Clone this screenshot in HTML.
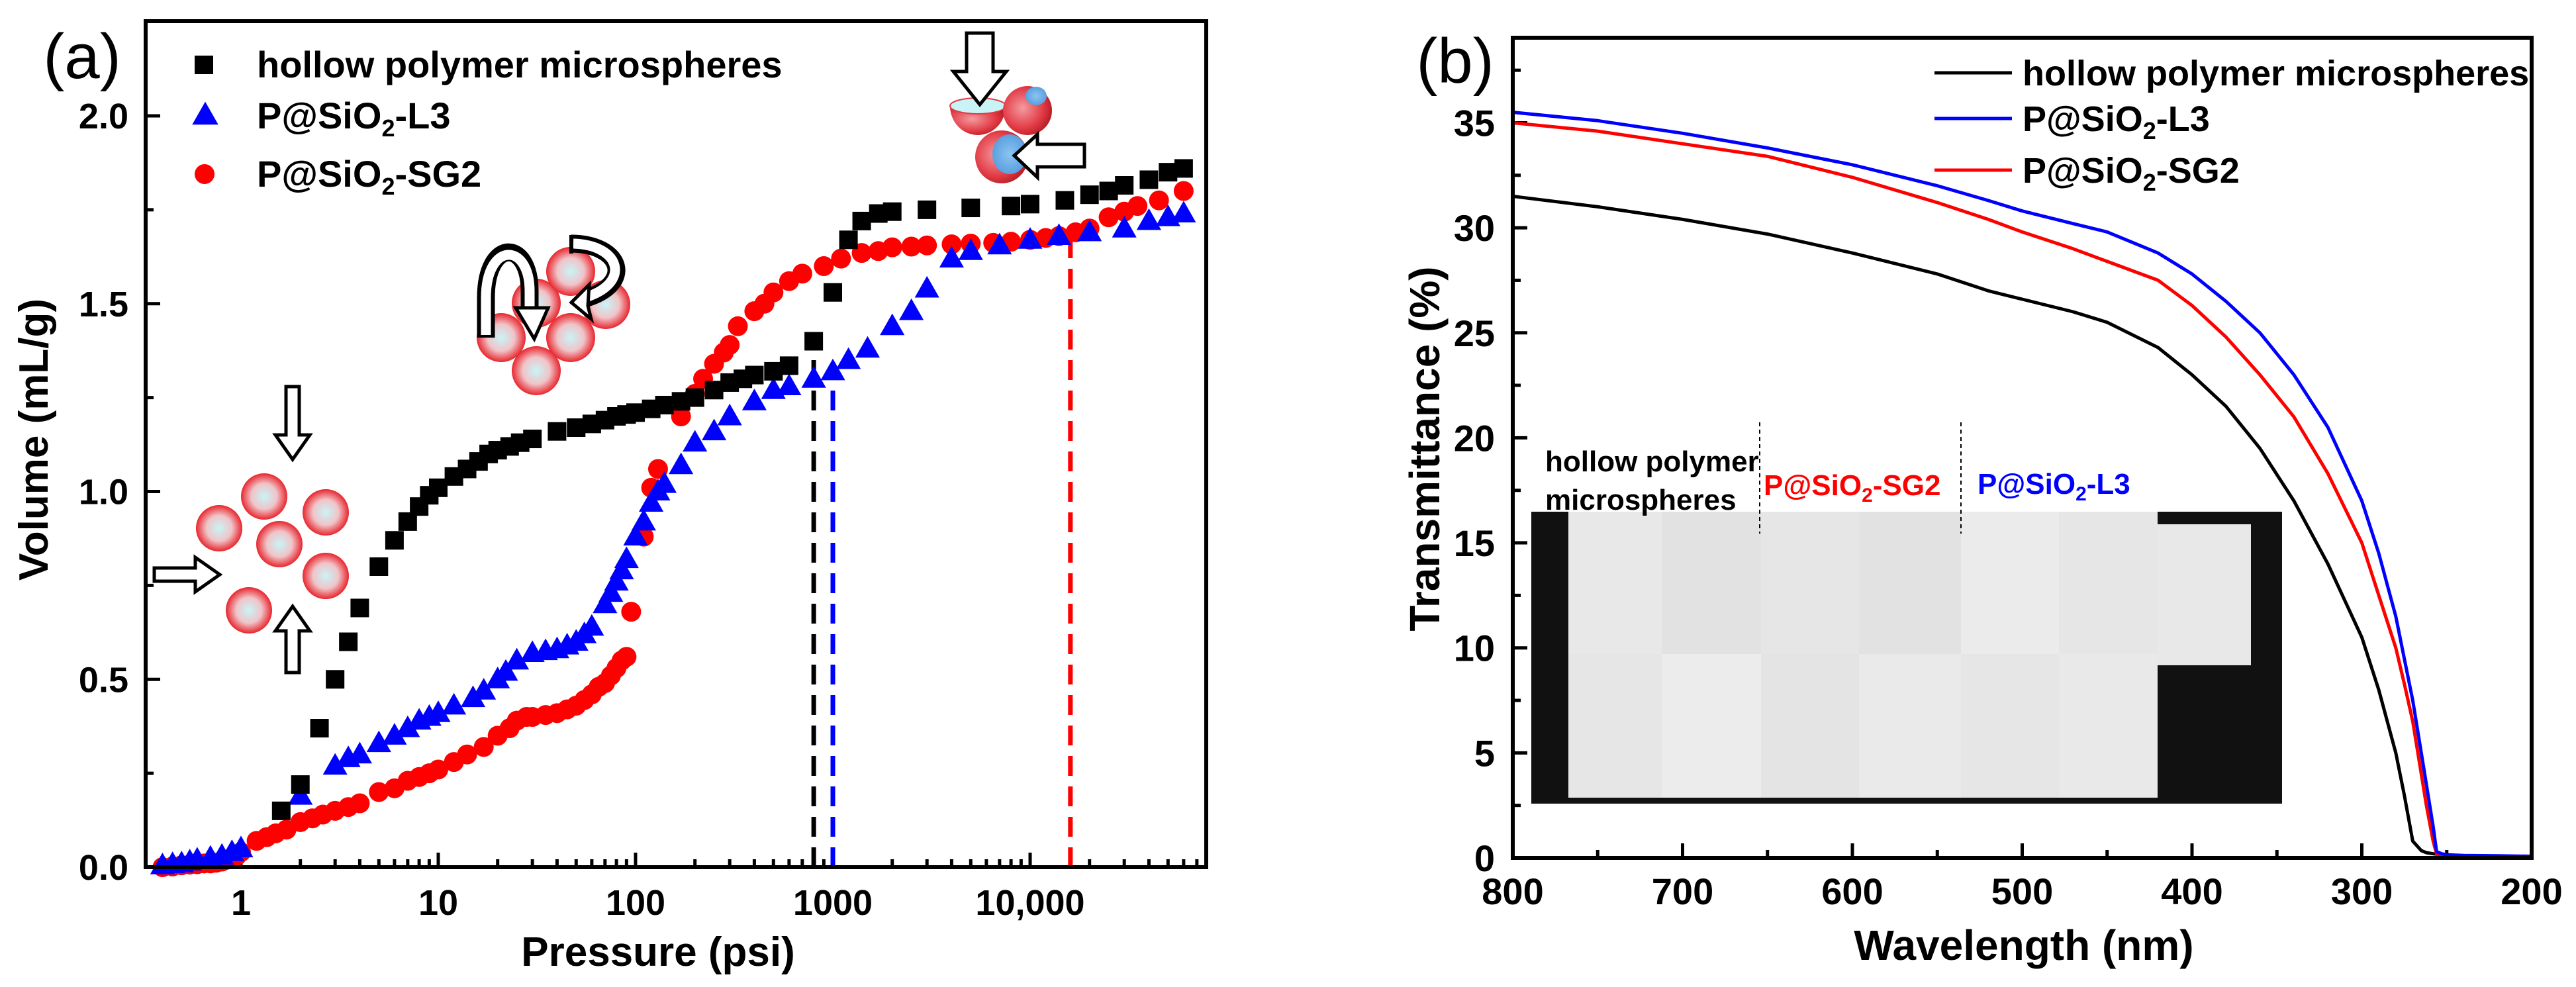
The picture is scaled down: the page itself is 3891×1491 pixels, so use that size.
<!DOCTYPE html>
<html><head><meta charset="utf-8"><style>
html,body{margin:0;padding:0;background:#fff}
svg{display:block}
text{font-family:"Liberation Sans",Arial,sans-serif}
</style></head><body>
<svg id="fig" width="3891" height="1491" viewBox="0 0 3891 1491" xmlns="http://www.w3.org/2000/svg">
<defs>
<radialGradient id="sph" cx="50%" cy="50%" r="50%"><stop offset="0" stop-color="#c8f4f8"/><stop offset="0.55" stop-color="#f0c4c8"/><stop offset="1" stop-color="#e8262e"/></radialGradient>
<radialGradient id="sph3" cx="40%" cy="45%" r="60%"><stop offset="0" stop-color="#f49aa0"/><stop offset="0.7" stop-color="#e23a44"/><stop offset="1" stop-color="#b81e28"/></radialGradient>
<radialGradient id="blu" cx="50%" cy="50%" r="50%"><stop offset="0" stop-color="#8cc4f0"/><stop offset="1" stop-color="#5aa0e0"/></radialGradient>
</defs>
<g id="pa"></g>
<g id="pb"></g>
</svg>
<script>
// ---------- Panel (a) data ----------
const blackP=[1.6,2,2.5,3,3.5,4,5,6,7,8,9,10,12,14,16,18,20,23,26,30,40,50,60,70,80,90,100,120,140,170,200,250,300,350,400,500,600,800,1000,1200,1400,1700,2000,3000,5000,8000,10000,15000,20000,25000,30000,40000,50000,60000];
const blackV=[0.15,0.22,0.37,0.5,0.6,0.69,0.8,0.87,0.92,0.96,0.99,1.01,1.04,1.06,1.08,1.1,1.11,1.12,1.13,1.14,1.16,1.17,1.18,1.19,1.2,1.205,1.21,1.22,1.23,1.24,1.25,1.27,1.29,1.3,1.31,1.32,1.335,1.4,1.53,1.67,1.72,1.74,1.745,1.75,1.755,1.76,1.765,1.775,1.79,1.8,1.815,1.83,1.85,1.86];
const blueP=[0.4,0.45,0.5,0.55,0.6,0.7,0.8,0.9,1.0,2,3,3.5,4,5,6,7,8,9,10,12,15,17,20,22,25,30,35,40,45,50,55,60,70,75,80,85,90,100,110,120,130,140,170,200,250,300,400,500,600,800,1000,1200,1500,2000,2500,3000,4000,5000,7000,10000,14000,20000,30000,40000,50000,60000];
const blueV=[0.005,0.008,0.01,0.015,0.02,0.025,0.03,0.04,0.05,0.19,0.27,0.29,0.3,0.33,0.35,0.37,0.39,0.4,0.41,0.43,0.45,0.47,0.5,0.52,0.55,0.57,0.575,0.58,0.59,0.6,0.62,0.64,0.7,0.73,0.76,0.79,0.82,0.88,0.92,0.97,1.0,1.02,1.07,1.13,1.16,1.2,1.24,1.27,1.28,1.3,1.32,1.35,1.38,1.44,1.48,1.54,1.62,1.64,1.655,1.67,1.68,1.69,1.7,1.72,1.73,1.74];
const redP=[0.4,0.45,0.5,0.55,0.6,0.65,0.7,0.75,0.8,0.85,0.9,0.95,1.0,1.2,1.35,1.5,1.7,2,2.3,2.6,3,3.5,4,5,6,7,8,9,10,12,14,17,20,23,25,28,30,35,40,45,50,55,60,65,70,75,80,85,90,95,110,120,130,170,200,220,250,280,300,330,400,450,500,600,700,900,1100,1400,1700,2000,2500,3000,4000,5000,6500,8000,10000,12000,14000,17000,20000,25000,30000,35000,45000,60000];
const redV=[0.0,0.002,0.005,0.007,0.008,0.01,0.01,0.012,0.015,0.02,0.025,0.03,0.04,0.07,0.08,0.09,0.1,0.12,0.13,0.14,0.15,0.16,0.17,0.2,0.21,0.23,0.24,0.25,0.26,0.28,0.3,0.32,0.35,0.37,0.39,0.4,0.4,0.405,0.41,0.42,0.43,0.445,0.46,0.48,0.49,0.51,0.53,0.55,0.56,0.68,0.88,1.01,1.06,1.2,1.26,1.3,1.34,1.37,1.39,1.44,1.48,1.5,1.53,1.56,1.58,1.6,1.62,1.635,1.64,1.65,1.652,1.655,1.658,1.66,1.662,1.665,1.67,1.675,1.68,1.69,1.7,1.73,1.745,1.76,1.775,1.8];
const dashP=[800,1000,16000];
const dashTop=[1.4,1.33,1.68];
const aXTicks=[1,10,100,1000,10000];
const aXLabels=["1","10","100","1000","10,000"];
const aYTicks=[0,0.5,1.0,1.5,2.0];
const aYLabels=["0.0","0.5","1.0","1.5","2.0"];

// ---------- Panel (b) data ----------
const wl=[800,750,700,650,600,550,520,500,470,450,420,400,380,360,340,320,300,290,280,275,270,265,262,258,256,253,250,240,220,200];
const tBlack=[31.5,31.0,30.4,29.7,28.8,27.8,27.0,26.6,26.0,25.5,24.3,23.0,21.5,19.5,17.0,14.0,10.5,8.0,5.0,3.0,0.8,0.35,0.25,0.2,0.18,0.15,0.1,0.08,0.05,0.05];
const tBlue=[35.5,35.1,34.5,33.8,33.0,32.0,31.3,30.8,30.2,29.8,28.8,27.8,26.5,25.0,23.0,20.5,17.0,14.5,11.5,9.5,7.5,5.0,3.5,1.5,0.3,0.2,0.15,0.12,0.1,0.08];
const tRed=[35.0,34.6,34.0,33.4,32.4,31.2,30.4,29.8,29.0,28.4,27.5,26.3,24.8,23.0,21.0,18.3,15.0,12.5,10.0,8.3,6.5,4.0,2.5,0.8,0.2,0.08,0.05,0.05,0.05,0.05];
const bXTicks=[800,700,600,500,400,300,200];
const bYTicks=[0,5,10,15,20,25,30,35];

const NS="http://www.w3.org/2000/svg";
function mk(parent,tag,attrs,txt){const e=document.createElementNS(NS,tag);for(const k in attrs)e.setAttribute(k,attrs[k]);if(txt!==undefined)e.textContent=txt;parent.appendChild(e);return e;}

// ===== Panel A =====
const pa=document.getElementById('pa');
const AL=220,AR=1822,AT=32,AB=1310;
const lx0=Math.log10(1),px1=364,pxDec=298;
function ax(p){return px1+(Math.log10(p)-lx0)*pxDec;}
function ay(v){return AB-v*567.5;}

let t=mk(pa,'text',{x:124,y:118,'font-size':96,'text-anchor':'middle'},'(a)');



// ticks
const tg=mk(pa,'g',{stroke:'#000','stroke-width':5});


for(let d=-1;d<=4;d++){for(let m=1;m<=9;m++){const p=m*Math.pow(10,d);const x=ax(p);if(x<AL+4||x>AR-4)continue;const len=(m===1)?22:12;mk(tg,'line',{x1:x,y1:AB,x2:x,y2:AB-len});}}
for(let i=0;i<=9;i++){const v=i*0.25;const y=ay(v);if(y<AT+4)continue;mk(tg,'line',{x1:AL,y1:y,x2:AL+(i%2===0?22:12),y2:y});}
aXTicks.forEach((p,i)=>{const e=mk(pa,'text',{x:ax(p),y:1382,'font-size':54,'font-weight':'bold','text-anchor':'middle'},aXLabels[i]);

});
aYTicks.forEach((v,i)=>{const e=mk(pa,'text',{x:194,y:ay(v)+19,'font-size':54,'font-weight':'bold','text-anchor':'end'},aYLabels[i]);

});
t=mk(pa,'text',{x:994,y:1459,'font-size':62,'font-weight':'bold','text-anchor':'middle'},'Pressure (psi)');


t=mk(pa,'text',{x:0,y:0,'font-size':62,'font-weight':'bold','text-anchor':'middle',transform:'translate(72,664) rotate(-90)'},'Volume (mL/g)');



// dashed lines
const dcol=['#000','#0000ff','#ff0000'];
dashP.forEach((p,i)=>{const l=mk(pa,'line',{x1:ax(p),x2:ax(p),y1:AB,y2:ay(dashTop[i]),stroke:dcol[i],'stroke-width':7,'stroke-dasharray':'30,16'});

});

// series
const gR=mk(pa,'g',{fill:'#ff0000'});


const gB=mk(pa,'g',{fill:'#0000ff'});


const gK=mk(pa,'g',{fill:'#000'});


function tri(g,x,y,s){return mk(g,'polygon',{points:`${x},${y-s*0.6} ${x-s*0.58},${y+s*0.42} ${x+s*0.58},${y+s*0.42}`});}
blueP.forEach((p,i)=>{const e=tri(gB,ax(p),ay(blueV[i]),32);

});
blackP.forEach((p,i)=>{const e=mk(gK,'rect',{x:ax(p)-14,y:ay(blackV[i])-14,width:28,height:28});

});
redP.forEach((p,i)=>{const e=mk(gR,'circle',{cx:ax(p),cy:ay(redV[i]),r:15});

});

// legend a
const lg=mk(pa,'g',{});


mk(lg,'rect',{x:294,y:84,width:28,height:28,fill:'#000'});
tri(lg,310,174,34).setAttribute('fill','#0000ff');
mk(lg,'circle',{cx:309,cy:263,r:15,fill:'#ff0000'});
mk(lg,'text',{x:388,y:117,'font-size':56,'font-weight':'bold'},'hollow polymer microspheres');
t=mk(lg,'text',{x:388,y:194,'font-size':56,'font-weight':'bold'});t.innerHTML='P@SiO<tspan font-size="36" dy="12">2</tspan><tspan dy="-12">-L3</tspan>';
t=mk(lg,'text',{x:388,y:282,'font-size':56,'font-weight':'bold'});t.innerHTML='P@SiO<tspan font-size="36" dy="12">2</tspan><tspan dy="-12">-SG2</tspan>';

// illustrations
const ill=mk(pa,'g',{});


[[399,750],[492,774],[331,798],[422,822],[492,870],[376,922]].forEach(c=>mk(ill,'circle',{cx:c[0],cy:c[1],r:35,fill:'url(#sph)'}));
function blockArrow(g,pts){mk(g,'polygon',{points:pts,fill:'#fff',stroke:'#000','stroke-width':5,'stroke-linejoin':'miter'});}
blockArrow(ill,'432,584 452,584 452,657 468,657 442,694 416,657 432,657');
blockArrow(ill,'432,1016 452,1016 452,953 468,953 442,916 416,953 432,953');
blockArrow(ill,'233,858 295,858 295,842 332,868 295,894 295,878 233,878');
[[757,510],[810,458],[862,410],[915,460],[862,510],[810,560]].forEach(c=>mk(ill,'circle',{cx:c[0],cy:c[1],r:37,fill:'url(#sph)'}));
mk(ill,'path',{d:'M734,510 L734,450 C734,360 800,360 800,440 L800,470',fill:'none',stroke:'#000','stroke-width':27});
mk(ill,'path',{d:'M734,506 L734,450 C734,365 800,365 800,440 L800,472',fill:'none',stroke:'#fff','stroke-width':15});
blockArrow(ill,'793,465 779,465 807,512 828,465 814,465');
mk(ill,'path',{d:'M862,368 C940,368 960,430 880,452',fill:'none',stroke:'#000','stroke-width':27});
mk(ill,'path',{d:'M866,368 C938,370 955,428 882,450',fill:'none',stroke:'#fff','stroke-width':15});
mk(ill,'rect',{x:860,y:355,width:6,height:28,fill:'#000'});
blockArrow(ill,'890,430 863,457 893,482 888,462');
// cluster 3
mk(ill,'path',{d:'M1435,160 A42,44 0 0 0 1519,160 Z',fill:'url(#sph3)'});
mk(ill,'ellipse',{cx:1477,cy:160,rx:42,ry:12,fill:'#c8f4f8',stroke:'#e23a44','stroke-width':2});
mk(ill,'circle',{cx:1552,cy:167,r:37,fill:'url(#sph3)'});
mk(ill,'ellipse',{cx:1565,cy:145,rx:16,ry:14,fill:'url(#blu)'});
mk(ill,'circle',{cx:1513,cy:237,r:40,fill:'url(#sph3)'});
mk(ill,'ellipse',{cx:1525,cy:233,rx:26,ry:30,fill:'url(#blu)'});
blockArrow(ill,'1460,50 1500,50 1500,108 1520,108 1480,158 1440,108 1460,108');
blockArrow(ill,'1638,218 1567,218 1567,203 1532,235 1567,268 1567,252 1638,252');

// frame a
const fa=mk(pa,'rect',{x:AL,y:AT,width:AR-AL,height:AB-AT,fill:'none',stroke:'#000','stroke-width':6});



// ===== Panel B =====
const pb=document.getElementById('pb');
const BL=2285,BR=3824,BT=57,BB=1296;
function bx(w){return BL+(800-w)/600*(BR-BL);}
function by(v){return BB-v*31.73;}
t=mk(pb,'text',{x:2198,y:125,'font-size':96,'text-anchor':'middle'},'(b)');



// inset photo
const ins=mk(pb,'g',{});


mk(ins,'rect',{x:2313,y:773,width:1134,height:441,fill:'#111'});
mk(ins,'rect',{x:2369,y:773,width:890,height:432,fill:'#e4e4e4'});
[[2369,2510,'#e8e8e8','#e6e6e6'],[2510,2660,'#e2e2e2','#ececec'],[2660,2808,'#e6e6e6','#e4e4e4'],[2808,2962,'#e2e2e2','#eaeaea'],[2962,3110,'#ebebeb','#e6e6e6'],[3110,3259,'#e6e6e6','#e9e9e9']].forEach(b=>{mk(ins,'rect',{x:b[0],y:773,width:b[1]-b[0],height:215,fill:b[2]});mk(ins,'rect',{x:b[0],y:988,width:b[1]-b[0],height:217,fill:b[3]});});
mk(ins,'rect',{x:3259,y:792,width:141,height:213,fill:'#e8e8e8'});
mk(ins,'text',{x:2334,y:712,'font-size':44,'font-weight':'bold',fill:'#000'},'hollow polymer');
mk(ins,'text',{x:2334,y:770,'font-size':44,'font-weight':'bold',fill:'#000'},'microspheres');
t=mk(ins,'text',{x:2664,y:748,'font-size':44,'font-weight':'bold',fill:'#ff0000'});t.innerHTML='P@SiO<tspan font-size="30" dy="10">2</tspan><tspan dy="-10">-SG2</tspan>';
t=mk(ins,'text',{x:2987,y:746,'font-size':44,'font-weight':'bold',fill:'#0000ff'});t.innerHTML='P@SiO<tspan font-size="30" dy="10">2</tspan><tspan dy="-10">-L3</tspan>';
mk(ins,'line',{x1:2658,x2:2658,y1:638,y2:806,stroke:'#000','stroke-width':2,'stroke-dasharray':'6,5'});
mk(ins,'line',{x1:2962,x2:2962,y1:638,y2:806,stroke:'#000','stroke-width':2,'stroke-dasharray':'6,5'});

// ticks b
const tb=mk(pb,'g',{stroke:'#000','stroke-width':5});


for(let w=800;w>=200;w-=50){const x=bx(w);if(x<BL+4||x>BR-4)continue;mk(tb,'line',{x1:x,y1:BB,x2:x,y2:BB-(w%100===0?22:12)});}
for(let v=0;v<=37.5;v+=2.5){const y=by(v);if(v===0)continue;mk(tb,'line',{x1:BL,y1:y,x2:BL+(v%5===0?22:12),y2:y});}
bXTicks.forEach(w=>{const e=mk(pb,'text',{x:bx(w),y:1366,'font-size':56,'font-weight':'bold','text-anchor':'middle'},String(w));

});
bYTicks.forEach(v=>{const e=mk(pb,'text',{x:2258,y:by(v)+20,'font-size':56,'font-weight':'bold','text-anchor':'end'},String(v));

});
t=mk(pb,'text',{x:3057,y:1450,'font-size':64,'font-weight':'bold','text-anchor':'middle'},'Wavelength (nm)');


t=mk(pb,'text',{x:0,y:0,'font-size':64,'font-weight':'bold','text-anchor':'middle',transform:'translate(2174,678) rotate(-90)'},'Transmittance (%)');



// curves
function curve(vals,col,name){const d=wl.map((w,i)=>(i?'L':'M')+bx(w).toFixed(1)+','+by(vals[i]).toFixed(1)).join(' ');const p=mk(pb,'path',{d:d,fill:'none',stroke:col,'stroke-width':5,'stroke-linejoin':'round'});

}
curve(tBlack,'#000','curve-hollow-polymer');
curve(tRed,'#ff0000','curve-p-sio2-sg2');
curve(tBlue,'#0000ff','curve-p-sio2-l3');

// legend b
const lb=mk(pb,'g',{});


mk(lb,'line',{x1:2922,x2:3039,y1:110,y2:110,stroke:'#000','stroke-width':5});
mk(lb,'line',{x1:2922,x2:3039,y1:179,y2:179,stroke:'#0000ff','stroke-width':5});
mk(lb,'line',{x1:2922,x2:3039,y1:257,y2:257,stroke:'#ff0000','stroke-width':5});
mk(lb,'text',{x:3055,y:129,'font-size':54,'font-weight':'bold'},'hollow polymer microspheres');
t=mk(lb,'text',{x:3055,y:198,'font-size':54,'font-weight':'bold'});t.innerHTML='P@SiO<tspan font-size="36" dy="12">2</tspan><tspan dy="-12">-L3</tspan>';
t=mk(lb,'text',{x:3055,y:276,'font-size':54,'font-weight':'bold'});t.innerHTML='P@SiO<tspan font-size="36" dy="12">2</tspan><tspan dy="-12">-SG2</tspan>';

const fb=mk(pb,'rect',{x:BL,y:BT,width:BR-BL,height:BB-BT,fill:'none',stroke:'#000','stroke-width':6});


</script>
</body></html>
